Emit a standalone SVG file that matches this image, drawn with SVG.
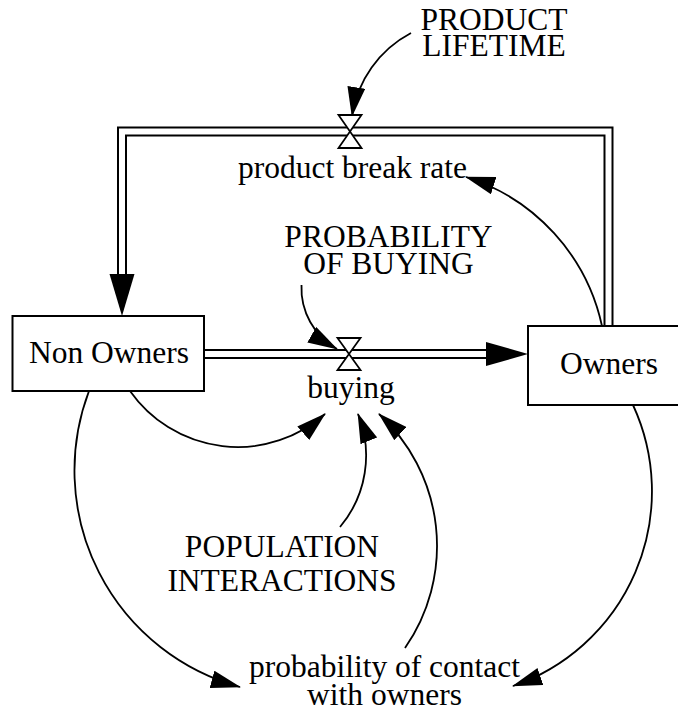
<svg xmlns="http://www.w3.org/2000/svg" width="678" height="712" viewBox="0 0 678 712">
<style>
  text { font-family: 'Liberation Serif', 'DejaVu Serif', serif; font-size: 31.5px; fill: #000; text-anchor: middle; }
  .box { fill: #fff; stroke: #000; stroke-width: 2; }
  .pipeo { fill: none; stroke: #000; stroke-width: 10; stroke-linejoin: miter; }
  .pipei { fill: none; stroke: #fff; stroke-width: 6; stroke-linejoin: miter; }
  .conn { fill: none; stroke: #000; stroke-width: 1.8; marker-end: url(#ah); }
  .valve { fill: #fff; stroke: #000; stroke-width: 1.8; stroke-linejoin: miter; }
  .head { fill: #000; }
</style>
<defs>
  <marker id="ah" markerUnits="userSpaceOnUse" viewBox="0 0 30 18" markerWidth="30" markerHeight="18" refX="29" refY="9" orient="auto">
    <path d="M0,0 L30,9 L0,18 z" fill="#000"/>
  </marker>
</defs>
<rect width="678" height="712" fill="#fff"/>

<g id="connectors">
  <path class="pipeo" d="M608.5,326 V131.5 H122 V276"/>
  <path class="pipei" d="M608.5,327 V131.5 H122 V277"/>
  <polygon class="head" points="109.5,274 134.5,274 122,316"/>
  <path class="pipeo" d="M203,354 H487"/>
  <path class="pipei" d="M203,354 H488"/>
  <polygon class="head" points="486,342 486,366 528,354"/>

  <path class="conn" d="M411,33 A113.2,113.2 0 0 0 352,116"/>
  <path class="conn" d="M602,326 A200.9,200.9 0 0 0 466,177"/>
  <path class="conn" d="M301.5,285 A70,70 0 0 0 337,349"/>
  <path class="conn" d="M130,391 A131.7,131.7 0 0 0 325,414"/>
  <path class="conn" d="M340,527 A110.8,110.8 0 0 0 358,414"/>
  <path class="conn" d="M405,648 A178.9,178.9 0 0 0 379,414"/>
  <path class="conn" d="M89,391 A224.4,224.4 0 0 0 240,687"/>
  <path class="conn" d="M633,405 A205.9,205.9 0 0 1 513,686"/>
</g>

<g id="non-owners">
  <rect class="box" x="12.5" y="316" width="191.5" height="75"/>
  <text font-family="Liberation Serif, serif" x="109" y="363">Non Owners</text>
</g>

<g id="owners">
  <rect class="box" x="528" y="326" width="170" height="79"/>
  <text font-family="Liberation Serif, serif" x="609" y="374">Owners</text>
</g>

<g id="product-break-rate">
  <path class="valve" d="M338.5,115 H361.5 L338.5,148 H361.5 Z"/>
  <text font-family="Liberation Serif, serif" x="352.5" y="178">product break rate</text>
</g>

<g id="buying">
  <path class="valve" d="M337.5,338 H360.5 L337.5,370 H360.5 Z"/>
  <text font-family="Liberation Serif, serif" x="351" y="398">buying</text>
</g>

<g id="product-lifetime">
  <text font-family="Liberation Serif, serif" x="494" y="30">PRODUCT</text>
  <text font-family="Liberation Serif, serif" x="494" y="56">LIFETIME</text>
</g>

<g id="probability-of-buying">
  <text font-family="Liberation Serif, serif" x="388.5" y="246.5">PROBABILITY</text>
  <text font-family="Liberation Serif, serif" x="388.5" y="274">OF BUYING</text>
</g>

<g id="population-interactions">
  <text font-family="Liberation Serif, serif" x="282" y="556.5">POPULATION</text>
  <text font-family="Liberation Serif, serif" x="282" y="590.5">INTERACTIONS</text>
</g>

<g id="probability-of-contact">
  <text font-family="Liberation Serif, serif" x="384.5" y="676.5">probability of contact</text>
  <text font-family="Liberation Serif, serif" x="384.5" y="705">with owners</text>
</g>
</svg>
